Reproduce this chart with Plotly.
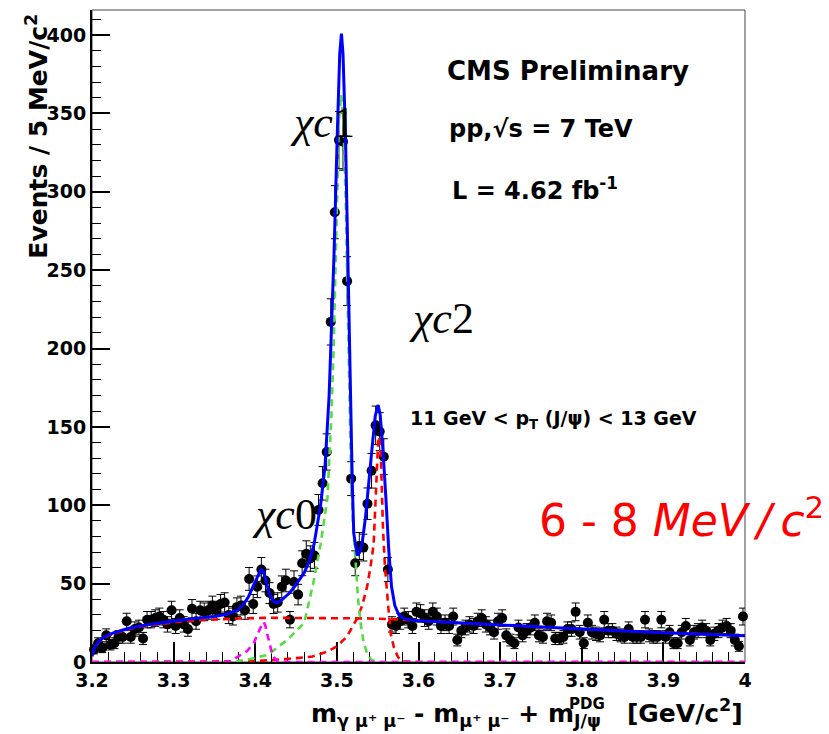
import numpy as np
import plotly.graph_objects as go

# ---------------- data ----------------
bin_lo, bin_w, n_bins = 3.2, 0.005, 160
bin_centers = [round(bin_lo + (i + 0.5) * bin_w, 4) for i in range(n_bins)]
counts = [
    8, 12, 9, 17, 11, 12, 16, 16, 26, 16,
    21, 22, 15, 27, 27, 28, 29, 27, 24, 33,
    23, 28, 24, 21, 34, 26, 33, 32, 33, 36,
    33, 37, 38, 30, 29, 35, 36, 33, 53, 37,
    48, 59, 52, 44, 37, 38, 48, 52, 27, 51,
    43, 63, 69, 66, 68, 97, 114, 134, 217, 287,
    333, 332, 243, 117, 63, 74, 73, 101, 122, 151,
    147, 131, 59, 24, 23, 26, 29, 27, 23, 32,
    31, 28, 26, 32, 29, 23, 25, 23, 29, 14,
    20, 22, 24, 23, 26, 28, 24, 22, 19, 26,
    28, 17, 14, 12, 22, 17, 20, 22, 25, 17,
    16, 26, 25, 15, 15, 16, 21, 21, 32, 19,
    12, 25, 19, 18, 17, 27, 20, 20, 18, 17,
    16, 21, 16, 16, 16, 27, 17, 16, 16, 27,
    16, 19, 12, 12, 19, 23, 14, 19, 20, 22,
    20, 14, 18, 20, 22, 23, 20, 14, 10, 29,
]
errors = [float(np.sqrt(c)) for c in counts]

# total fit (blue)
total_x = [3.200, 3.203, 3.208, 3.215, 3.226, 3.245, 3.268, 3.290, 3.310, 3.330,
           3.350, 3.365, 3.378, 3.386, 3.392, 3.398, 3.403, 3.407, 3.410, 3.413,
           3.417, 3.421, 3.425, 3.430, 3.436, 3.442, 3.448, 3.455, 3.460, 3.466,
           3.472, 3.480, 3.4855, 3.4905, 3.4935, 3.4965, 3.5005, 3.5035, 3.5056,
           3.5075, 3.5105, 3.5138, 3.5167, 3.5188, 3.5207, 3.525, 3.528, 3.531,
           3.535, 3.539, 3.543, 3.547, 3.5505, 3.553, 3.5565, 3.560, 3.5635, 3.567,
           3.571, 3.576, 3.583, 3.595, 3.620, 3.700, 3.800, 3.900, 4.000]
total_y = [4, 9, 13, 16, 18.5, 21.5, 23.8, 25.5, 26.8, 28,
           29, 30.5, 33, 37, 42, 49, 55, 59, 58, 52,
           44, 39.5, 37.8, 38.5, 41, 44, 48, 53, 57, 64,
           75, 100, 125, 170, 210, 260, 337, 388, 401,
           388, 337, 241, 167, 116, 82, 68, 70, 76,
           92, 112, 136, 157, 164, 158, 135, 105, 72, 48,
           36, 30, 27.5, 26.5, 25.8, 23.5, 21, 18.7, 16.8]

# background (red dashed)
bkg_x = [3.200, 3.203, 3.208, 3.215, 3.226, 3.245, 3.268, 3.290, 3.310, 3.330,
         3.350, 3.380, 3.420, 3.480, 3.540, 3.580, 3.620, 3.700, 3.800, 3.900, 4.000]
bkg_y = [3.5, 8.5, 12.5, 15.5, 18, 21, 23.3, 24.8, 25.8, 26.6,
         27.2, 27.8, 28.2, 28.2, 27.8, 27, 25.8, 23.5, 21, 18.7, 16.8]

# chi_c2 (red dashed)
chic2_x = [3.200, 3.400, 3.440, 3.470, 3.490, 3.500, 3.512, 3.525, 3.531, 3.537,
           3.541, 3.545, 3.548, 3.5505, 3.552, 3.554, 3.5565, 3.559, 3.5625, 3.566,
           3.570, 3.575, 3.580, 3.600, 4.000]
chic2_y = [0, 0.5, 2, 3.5, 7, 10, 16, 28, 36, 48,
           60, 75, 110, 140, 144, 130, 85, 60, 38, 18,
           9, 3, 0.5, 0, 0]

# chi_c1 (green dashed)
chic1_x = [3.200, 3.370, 3.390, 3.415, 3.439, 3.460, 3.471, 3.480, 3.4885, 3.4935,
           3.496, 3.4995, 3.5025, 3.5053, 3.508, 3.511, 3.5135, 3.5167, 3.5195, 3.5229,
           3.526, 3.529, 3.533, 3.537, 3.542, 3.550, 4.000]
chic1_y = [0, 0, 1.5, 4.5, 14, 25, 50, 75, 105, 160,
           200, 290, 345, 362, 345, 290, 220, 135, 90, 61,
           40, 25, 12, 5.7, 1.5, 0, 0]

# chi_c0 (magenta dashed)
chic0_x = [3.200, 3.360, 3.370, 3.382, 3.390, 3.398, 3.403, 3.4065, 3.4104, 3.4125,
           3.4146, 3.417, 3.4195, 3.423, 3.427, 3.440, 4.000]
chic0_y = [0, 0, 0.5, 4.5, 7, 12, 18, 22, 25.5, 23,
           18, 12, 7.7, 3, 0.5, 0, 0]

x_tick_vals = [3.2, 3.3, 3.4, 3.5, 3.6, 3.7, 3.8, 3.9, 4.0]
x_tick_text = ["3.2", "3.3", "3.4", "3.5", "3.6", "3.7", "3.8", "3.9", "4"]
y_tick_vals = [0, 50, 100, 150, 200, 250, 300, 350, 400]

# ---------------- figure ----------------
fig = go.Figure()

fig.add_trace(go.Scatter(
    x=bin_centers, y=counts, mode="markers",
    marker=dict(color="black", size=10),
    error_y=dict(type="data", array=errors, color="black", thickness=1, width=4),
    showlegend=False, cliponaxis=False))

dash = "7px,5px"
lw = 2.6
fig.add_trace(go.Scatter(x=bkg_x, y=bkg_y, mode="lines",
                         line=dict(color="#ff0000", width=lw, dash=dash), showlegend=False))
fig.add_trace(go.Scatter(x=chic2_x, y=chic2_y, mode="lines",
                         line=dict(color="#ff0000", width=lw, dash=dash), showlegend=False))
fig.add_trace(go.Scatter(x=chic1_x, y=chic1_y, mode="lines",
                         line=dict(color="#55dd44", width=lw, dash=dash), showlegend=False))
fig.add_trace(go.Scatter(x=chic0_x, y=chic0_y, mode="lines",
                         line=dict(color="#ff00ff", width=lw, dash=dash), showlegend=False))
fig.add_trace(go.Scatter(x=total_x, y=total_y, mode="lines",
                         line=dict(color="#0000ff", width=3), showlegend=False))

bold = dict(family="DejaVu Sans", color="black", weight="bold")

fig.update_layout(
    width=829, height=734,
    margin=dict(l=92, r=84, t=10, b=72),
    paper_bgcolor="white", plot_bgcolor="white",
    xaxis=dict(range=[3.2, 4.0], tickmode="array", tickvals=x_tick_vals, ticktext=x_tick_text,
               ticks="inside", ticklen=20, tickwidth=1.5, tickcolor="black",
               minor=dict(ticks="inside", ticklen=10, dtick=0.02, tickwidth=1.2, tickcolor="black",
                          showgrid=False),
               showline=True, linewidth=2, linecolor="black", showgrid=False, zeroline=False,
               tickfont=dict(size=19, **bold), layer="below traces"),
    yaxis=dict(range=[0, 416], tickmode="array", tickvals=y_tick_vals,
               ticks="inside", ticklen=18, tickwidth=1.5, tickcolor="black",
               minor=dict(ticks="inside", ticklen=9, dtick=10, tickwidth=1.2, tickcolor="black",
                          showgrid=False),
               showline=True, linewidth=2, linecolor="black", showgrid=False, zeroline=False,
               tickfont=dict(size=19, **bold), layer="below traces"),
)

fig.add_shape(type="rect", xref="paper", yref="paper", x0=0, x1=1, y0=0, y1=1,
              line=dict(color="#444444", width=1), layer="below")

ann = []
ann.append(dict(text="Events / 5 MeV/c<sup>2</sup>", xref="paper", yref="paper",
                x=-0.084, y=0.806, xanchor="center", yanchor="middle",
                textangle=-90, showarrow=False, font=dict(size=25, **bold)))
ann.append(dict(text="m<sub>γ μ⁺ μ⁻</sub> - m<sub>μ⁺ μ⁻</sub> + m<sub>J/ψ</sub>\u00a0\u00a0 [GeV/c<sup>2</sup>]",
                xref="paper", yref="paper", x=1.0, y=-0.078, xanchor="right", yanchor="middle",
                showarrow=False, font=dict(size=25, **bold)))
ann.append(dict(text="PDG", xref="x", yref="paper", x=3.807, y=-0.064,
                xanchor="center", yanchor="middle", showarrow=False, font=dict(size=15, **bold)))
ann.append(dict(text="CMS Preliminary", xref="x", yref="y", x=3.633, y=377,
                xanchor="left", yanchor="middle", showarrow=False, font=dict(size=26, **bold)))
ann.append(dict(text="pp,√s = 7 TeV", xref="x", yref="y", x=3.6355, y=340,
                xanchor="left", yanchor="middle", showarrow=False, font=dict(size=24, **bold)))
ann.append(dict(text="L = 4.62 fb<sup>-1</sup>", xref="x", yref="y", x=3.639, y=302,
                xanchor="left", yanchor="middle", showarrow=False, font=dict(size=24, **bold)))
ann.append(dict(text="11 GeV < p<sub>T</sub> (J/ψ) < 13 GeV", xref="x", yref="y", x=3.587, y=155,
                xanchor="left", yanchor="middle", showarrow=False, font=dict(size=19, **bold)))
chi_font = dict(family="Liberation Serif", size=44, color="black")
ann.append(dict(text="<i>χc</i>1", xref="x", yref="y", x=3.4824, y=344,
                xanchor="center", yanchor="middle", showarrow=False, font=chi_font))
ann.append(dict(text="<i>χc</i>2", xref="x", yref="y", x=3.628, y=219,
                xanchor="center", yanchor="middle", showarrow=False, font=chi_font))
ann.append(dict(text="<i>χc</i>0", xref="x", yref="y", x=3.436, y=94,
                xanchor="center", yanchor="middle", showarrow=False, font=chi_font))
ann.append(dict(text="6 - 8 <i>MeV</i>\u2009<i>/</i>\u2009<i>c</i><sup>2</sup>", xref="x", yref="y", x=3.745, y=92,
                xanchor="left", yanchor="middle", showarrow=False,
                font=dict(family="DejaVu Sans", size=44, color="#ff0000")))
fig.update_layout(annotations=ann)

fig.write_html("out.html")
